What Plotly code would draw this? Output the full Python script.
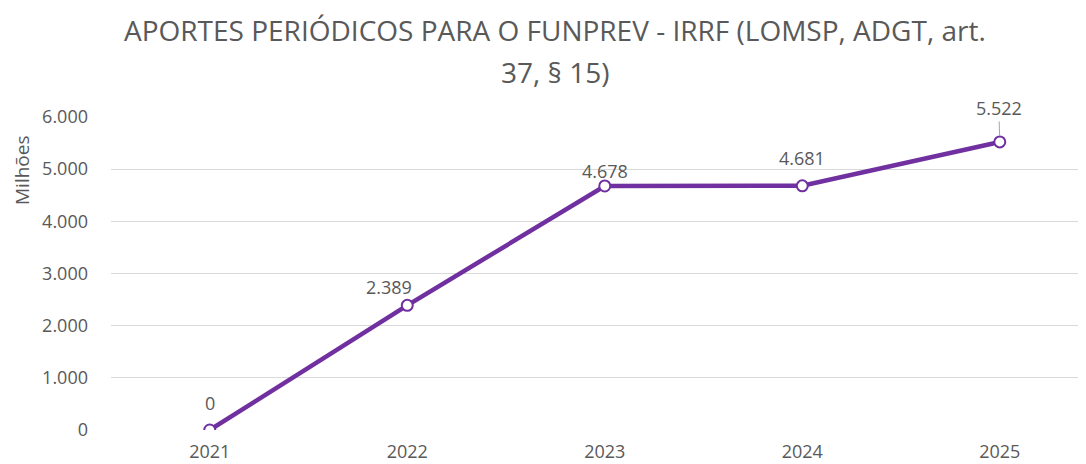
import plotly.graph_objects as go

years = ["2021", "2022", "2023", "2024", "2025"]
values = [0, 2389, 4678, 4681, 5522]
labels = ["0", "2.389", "4.678", "4.681", "5.522"]
ytick_vals = [0, 1000, 2000, 3000, 4000, 5000, 6000]
ytick_text = ["0", "1.000", "2.000", "3.000", "4.000", "5.000", "6.000"]
title_line1 = "APORTES PERIÓDICOS PARA O FUNPREV - IRRF (LOMSP, ADGT, art."
title_line2 = "37, § 15)"

xs = list(range(len(years)))
purple = "#7030A0"
gray = "#595959"
font = "Open Sans"
fs = 18

fig = go.Figure()
fig.add_trace(go.Scatter(
    x=xs, y=values, mode="lines+markers",
    line=dict(color=purple, width=4.5),
    marker=dict(size=11, color="white", line=dict(color=purple, width=2)),
    hoverinfo="skip", showlegend=False,
))

# label offsets (pixels) relative to each point
offs = [(0, 27), (-18, 18), (0, 15), (0, 28), (0, 0)]
for i, (x, y, t) in enumerate(zip(xs, values, labels)):
    if i == len(xs) - 1:
        fig.add_annotation(x=x, y=y, text=t, showarrow=True, arrowhead=0,
                           arrowwidth=1, arrowcolor="#A6A6A6", ax=-1, ay=-34,
                           standoff=6, font=dict(family=font, size=fs, color=gray))
    else:
        dx, dy = offs[i]
        fig.add_annotation(x=x, y=y, text=t, showarrow=False, xshift=dx, yshift=dy,
                           font=dict(family=font, size=fs, color=gray))

fig.add_annotation(xref="paper", yref="paper", x=0.452, y=1, yshift=87, yanchor="middle",
                   text=title_line1, showarrow=False,
                   font=dict(family=font, size=28, color=gray))
fig.add_annotation(xref="paper", yref="paper", x=0.452, y=1, yshift=45, yanchor="middle",
                   text=title_line2, showarrow=False,
                   font=dict(family=font, size=28, color=gray))
fig.add_annotation(xref="paper", yref="paper", x=0, xshift=-89, y=1, yshift=-53,
                   yanchor="middle", xanchor="center",
                   text="Milhões", textangle=-90, showarrow=False,
                   font=dict(family=font, size=19, color=gray))

fig.update_xaxes(range=[-0.5, 4.477], tickvals=xs, ticktext=years, showgrid=False,
                 zeroline=False, showline=False, ticks="", ticklabelstandoff=9,
                 tickfont=dict(family=font, size=fs, color=gray))
fig.update_yaxes(range=[0, 6000], tickvals=ytick_vals, ticktext=ytick_text,
                 showgrid=True, gridcolor="#D9D9D9", gridwidth=1, zeroline=False,
                 showline=False, ticks="", ticklabelstandoff=22,
                 tickfont=dict(family=font, size=fs, color=gray))
# page body has an 8px margin: shift margins so the plot lands where the reference has it
fig.update_layout(width=1086, height=464, margin=dict(l=103, r=0, t=109, b=42),
                  paper_bgcolor="white", plot_bgcolor="white")
fig.write_html("out.html")
